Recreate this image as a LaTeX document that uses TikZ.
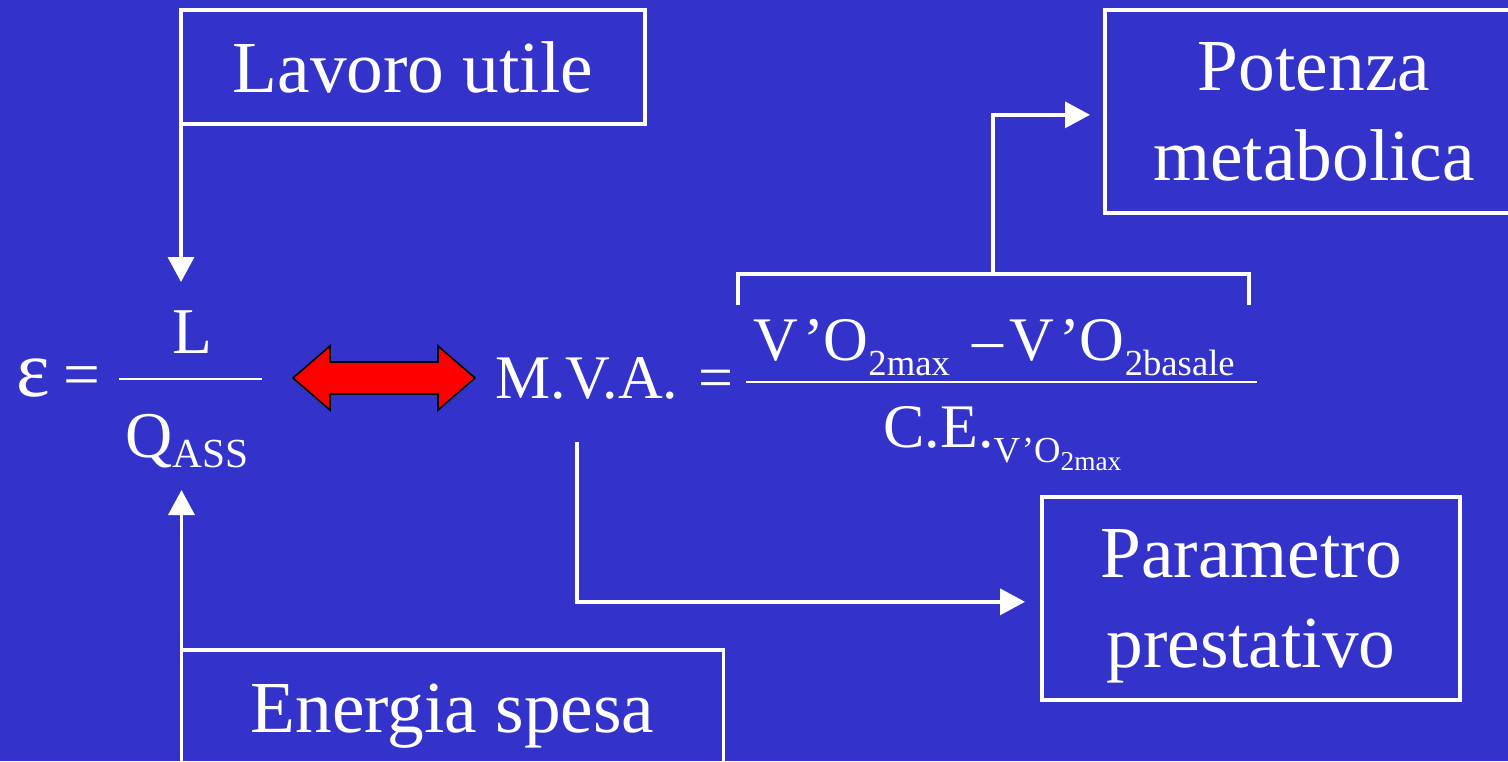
\documentclass[tikz,border=0pt]{standalone}
\usepackage{fontspec}
\setmainfont{Liberation Serif}
\usetikzlibrary{arrows.meta}

\definecolor{slideblue}{RGB}{51,51,204}
\newcommand{\boxfont}{\fontsize{55}{67.5}\selectfont}
\newcommand{\epsfont}{\fontsize{49}{49}\selectfont}
\newcommand{\mvafont}{\fontsize{46.5}{46.5}\selectfont}
\newcommand{\subfont}{\fontsize{27.5}{27.5}\selectfont}
\newcommand{\subsubfont}{\fontsize{20.5}{20.5}\selectfont}

\tikzset{
  textbox/.style={draw=white, line width=2.5pt, text=white, font=\boxfont, align=center,
    inner sep=0pt, outer sep=0pt, text depth=0pt, minimum width=313.5pt, minimum height=152.25pt},
  link/.style={draw=white, line width=2.5pt, -{Triangle[length=18.75pt,width=19.5pt]}},
  formula/.style={text=white, inner sep=0pt, anchor=base west},
}

\begin{document}
\begin{tikzpicture}[x=0.75pt,y=0.75pt,yscale=-1]
        \useasboundingbox (0,0) rectangle (1508,761);
        \clip (0,0) rectangle (1508,761);
        \fill[slideblue] (0,0) rectangle (1508,761);

        %Boxes
        \node[textbox, minimum width=348pt, minimum height=85.5pt] (lavoro) at (413,67) {Lavoro utile};
        \node[textbox] (potenza) at (1314,111.5) {Potenza\\metabolica};
        \node[textbox] (parametro) at (1251,598.5) {Parametro\\prestativo};
        \node[textbox, minimum width=406.5pt, minimum height=87pt] (energia) at (452.5,708) {Energia spesa};

        % Text Node: rendimento
        \node[formula, font=\fontsize{60}{60}\selectfont] (eps) at (16,396) {ε};
        \node[formula, font=\epsfont] (eqa) at (63,396) {=};
        \node[formula, anchor=base, font=\epsfont] (lnum) at (192,353) {L};
        \node[formula, font=\epsfont] (qden) at (125,457) {Q\raisebox{-7.5pt}{\fontsize{31}{31}\selectfont ASS}};
        \draw[white, line width=2pt] (119,379) -- (262,379);

        % Text Node: M.V.A.
        \node[formula, font=\mvafont] (mva) at (495,398) {M.V.A.};
        \node[formula, font=\mvafont] (eqb) at (698,398) {=};
        \node[formula, font=\mvafont] (vnum) at (753,360) {V\kern3.75pt’O\raisebox{-11.25pt}{\subfont 2max}\hspace{17pt}–\hspace{4.5pt}V\kern3.75pt’O\raisebox{-11.25pt}{\subfont 2basale}};
        \node[formula, font=\mvafont] (ceden) at (883,447) {C.E.\raisebox{-11.25pt}{\subfont V\kern1.5pt’O\raisebox{-6pt}{\subsubfont 2max}}};
        \draw[white, line width=1.5pt] (746,382) -- (1257,382);

        %Shape: double arrow
        \draw[fill=red, draw=black, line width=1.2pt] (293,378) -- (330,346) -- (330,362) -- (438,362) -- (438,346) -- (475,378) -- (438,410) -- (438,394) -- (330,394) -- (330,410) -- cycle;

        %Connectors
        \coordinate (ltip) at (181,282);
        \coordinate (qtip) at (181.5,490);
        \coordinate (mvaout) at (577,442);
        \coordinate (brleft) at (738,305);
        \coordinate (brright) at (1249,305);
        \coordinate (brstem) at (993,274);
        \draw[link] (lavoro.south west) -- (ltip);
        \draw[link] (energia.north west) -- (qtip);
        \draw[white, line width=2.5pt] (brleft) -- (brleft |- brstem) -- (brright |- brstem) -- (brright);
        \draw[link] (brstem) |- ([xshift=-11.25pt,yshift=2.5pt]potenza.west);
        \draw[link] (mvaout) |- ([xshift=-12.75pt,yshift=2.5pt]parametro.west);
\end{tikzpicture}
\end{document}
